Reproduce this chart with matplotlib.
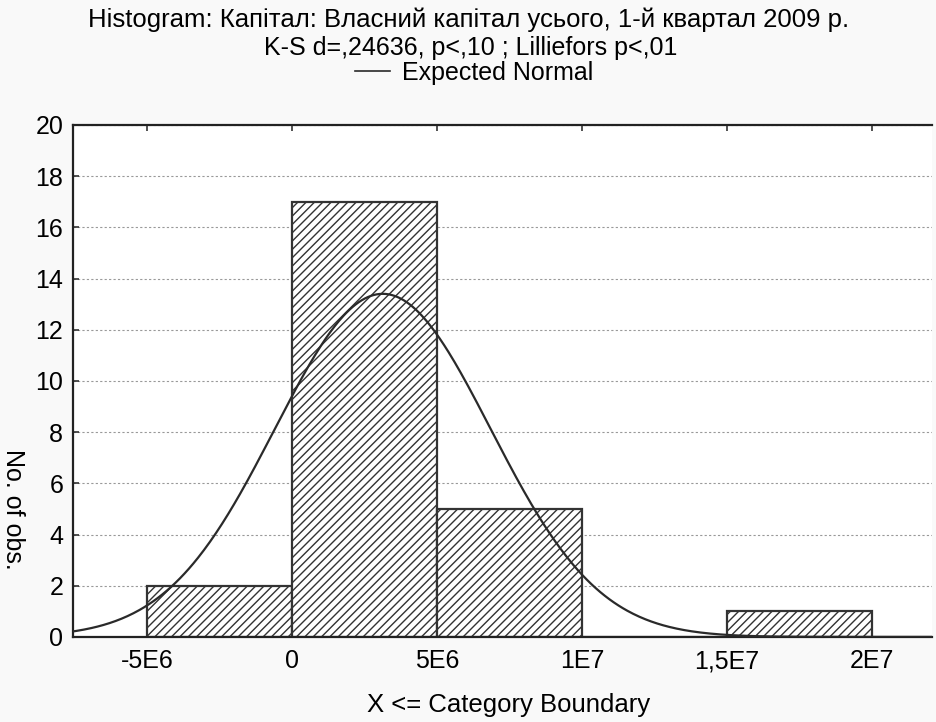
import numpy as np
import matplotlib
matplotlib.use("Agg")
import matplotlib.pyplot as plt
from matplotlib.lines import Line2D

plt.rcParams['font.family'] = ['Liberation Sans', 'DejaVu Sans']
plt.rcParams['hatch.linewidth'] = 1.0
plt.rcParams['hatch.color'] = '#333333'

# Data
bin_left = [-5e6, 0, 5e6, 1e7, 1.5e7, 2e7]
counts = [2, 17, 5, 0, 1, 0]
bin_width = 5e6
x_ticks = [-5e6, 0, 5e6, 1e7, 1.5e7, 2e7]
x_tick_labels = ["-5E6", "0", "5E6", "1E7", "1,5E7", "2E7"]
y_ticks = [0, 2, 4, 6, 8, 10, 12, 14, 16, 18, 20]
norm_mean = 3.13e6
norm_sd = 3.72e6
n_obs = 25

FS = 18
W, H = 937, 722
fig = plt.figure(figsize=(W / 100, H / 100), dpi=100, facecolor='#f9f9f9')
ax = fig.add_axes([73 / W, (H - 637) / H, (932 - 73) / W, (637 - 125) / H])
ax.set_facecolor('white')

ax.bar(bin_left, counts, width=bin_width, align='edge', facecolor='white',
       edgecolor='#333333', linewidth=1.6, hatch='////', zorder=2)

xs = np.linspace(-8e6, 2.3e7, 600)
ys = n_obs * bin_width / (norm_sd * np.sqrt(2 * np.pi)) * np.exp(-(xs - norm_mean) ** 2 / (2 * norm_sd ** 2))
ax.plot(xs, ys, color='#2a2a2a', linewidth=1.6, zorder=3)

ax.set_xlim(-7.55e6, 2.207e7)
ax.set_ylim(0, 20)
ax.set_xticks(x_ticks)
ax.set_xticklabels(x_tick_labels)
ax.set_yticks(y_ticks)
ax.yaxis.grid(True, linestyle=(0, (2, 2)), color='#999999', linewidth=0.8, zorder=0)
ax.set_axisbelow(True)
ax.tick_params(axis='both', direction='in', length=4, width=1.2, color='#333333',
               labelsize=FS, top=True, labeltop=False)
ax.tick_params(axis='x', pad=9)
ax.tick_params(axis='y', pad=7)
for s in ['left', 'top', 'bottom']:
    ax.spines[s].set_linewidth(1.6)
    ax.spines[s].set_color('#222222')
ax.spines['right'].set_visible(False)

fig.text(469 / W, 1 - 20 / H, "Histogram: Капітал: Власний капітал усього, 1-й квартал 2009 р.",
         ha='center', va='center', fontsize=18.5)
fig.text(471 / W, 1 - 48 / H, "K-S d=,24636, p<,10 ; Lilliefors p<,01",
         ha='center', va='center', fontsize=FS)
leg = fig.legend([Line2D([], [], color='#2a2a2a', linewidth=1.2)], ["Expected Normal"],
                 loc='center', bbox_to_anchor=(474 / W, 1 - 73 / H),
                 frameon=False, fontsize=FS, handlelength=1.4, handletextpad=0.5,
                 borderpad=0, borderaxespad=0)
fig.text(509 / W, 1 - 705 / H, "X <= Category Boundary", ha='center', va='center', fontsize=18.5)
fig.text(13 / W, 1 - 509 / H, "No. of obs.", ha='center', va='center', rotation=-90, fontsize=FS)

fig.savefig("out.png", dpi=100, facecolor=fig.get_facecolor())
